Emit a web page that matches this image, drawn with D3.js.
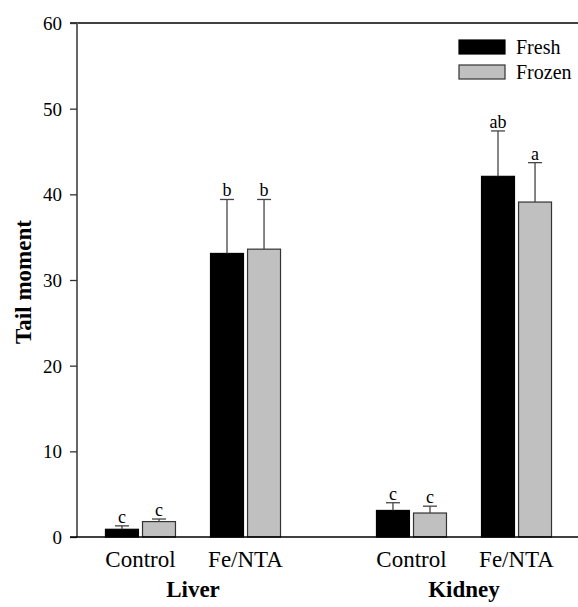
<!doctype html>
<html lang="en">
<head>
  <meta charset="utf-8">
  <title>Tail moment</title>
  <style>
    body { margin: 0; background: #fff; }
    svg { display: block; }
    svg text { font-family: "Liberation Serif", "Times New Roman", serif; fill: #000; }
  </style>
</head>
<body>
  <div id="chart"></div>
  <script src="https://cdn.jsdelivr.net/npm/d3@7/dist/d3.min.js"></script>
  <script>
var organs = ["Liver", "Kidney"];
var treatments = ["Control", "Fe/NTA"];
var series = ["Fresh", "Frozen"];
var yTicks = [0, 10, 20, 30, 40, 50, 60];

// means, per organ then treatment, [Fresh, Frozen]
var freshMean  = [0.9, 33.1, 3.1, 42.1];
var frozenMean = [1.8, 33.6, 2.8, 39.1];
var freshErr   = [0.4, 6.3, 0.9, 5.3];
var frozenErr  = [0.3, 5.8, 0.8, 4.6];
var freshSig   = ["c", "b", "c", "ab"];
var frozenSig  = ["c", "b", "c", "a"];

(function(){
  var width = 578, height = 607;
  var left = 77, top = 23, bottom = 537;

  var svg = d3.select("#chart").append("svg")
      .attr("width", width)
      .attr("height", height);

  var y = d3.scaleLinear().domain([0, 60]).range([bottom, top]);

  var x0 = d3.scaleBand().domain(organs).range([57.5, 599.5]);
  var x1 = d3.scaleBand().domain(treatments).range([0, x0.bandwidth()]).paddingOuter(0.29);
  var pairW = 70;
  var x2 = d3.scaleBand().domain(series).range([0, pairW]).paddingInner(0.11);

  var rows = [];
  organs.forEach(function(o, i) {
    treatments.forEach(function(t, j) {
      var k = i * treatments.length + j;
      rows.push({organ: o, treat: t, s: "Fresh", v: freshMean[k], e: freshErr[k], sig: freshSig[k]});
      rows.push({organ: o, treat: t, s: "Frozen", v: frozenMean[k], e: frozenErr[k], sig: frozenSig[k]});
    });
  });

  function barX(d) {
    return x0(d.organ) + x1(d.treat) + (x1.bandwidth() - pairW) / 2 + x2(d.s);
  }
  function barC(d) { return barX(d) + x2.bandwidth() / 2; }

  // top frame line
  svg.append("line").attr("x1", 70).attr("x2", width).attr("y1", top).attr("y2", top)
      .attr("stroke", "#000").attr("stroke-width", 1.3);

  // bars
  svg.selectAll(".bar").data(rows).enter().append("rect")
      .attr("class", "bar")
      .attr("x", barX)
      .attr("y", function(d) { return y(d.v); })
      .attr("width", x2.bandwidth())
      .attr("height", function(d) { return y(0) - y(d.v); })
      .attr("fill", function(d) { return d.s === "Fresh" ? "#000" : "#c0c0c0"; })
      .attr("stroke", function(d) { return d.s === "Fresh" ? "#000" : "#333"; })
      .attr("stroke-width", 1.2);

  // error bars (upper only)
  var eb = svg.selectAll(".err").data(rows).enter().append("g")
      .attr("class", "err")
      .attr("stroke", "#444").attr("stroke-width", 1.3);
  eb.append("line")
      .attr("x1", barC).attr("x2", barC)
      .attr("y1", function(d) { return y(d.v); })
      .attr("y2", function(d) { return y(d.v + d.e); });
  eb.append("line")
      .attr("x1", function(d) { return barC(d) - 7; })
      .attr("x2", function(d) { return barC(d) + 7; })
      .attr("y1", function(d) { return y(d.v + d.e); })
      .attr("y2", function(d) { return y(d.v + d.e); });

  svg.selectAll(".sig").data(rows).enter().append("text")
      .attr("class", "sig")
      .attr("x", barC)
      .attr("y", function(d) { return y(d.v + d.e) - 3; })
      .attr("text-anchor", "middle")
      .attr("font-size", 18)
      .text(function(d) { return d.sig; });

  // y axis
  var yAxis = svg.append("g")
      .attr("transform", "translate(" + left + ",0)")
      .call(d3.axisLeft(y).tickValues(yTicks).tickSize(7).tickPadding(8));
  yAxis.attr("font-family", null).attr("font-size", null);
  yAxis.selectAll(".tick text").attr("font-size", 19).attr("dy", "0.34em");
  yAxis.select(".domain").attr("stroke", "#666").attr("stroke-width", 2).attr("d", "M0," + top + "V" + bottom);
  yAxis.selectAll(".tick line").attr("stroke", "#333").attr("stroke-width", 1.3);

  // x axis line
  svg.append("line").attr("x1", 70).attr("x2", width).attr("y1", bottom).attr("y2", bottom)
      .attr("stroke", "#000").attr("stroke-width", 1.6);

  // category labels
  organs.forEach(function(o) {
    treatments.forEach(function(t) {
      svg.append("text")
          .attr("x", x0(o) + x1(t) + x1.bandwidth() / 2)
          .attr("y", 567)
          .attr("text-anchor", "middle")
          .attr("font-size", 23)
          .text(t);
    });
    svg.append("text")
        .attr("x", x0(o) + x0.bandwidth() / 2)
        .attr("y", 597)
        .attr("text-anchor", "middle")
        .attr("font-size", 23)
        .attr("font-weight", "bold")
        .text(o);
  });

  // y label
  svg.append("text")
      .attr("transform", "translate(31," + 282 + ") rotate(-90)")
      .attr("text-anchor", "middle")
      .attr("font-size", 23)
      .attr("font-weight", "bold")
      .text("Tail moment");

  // legend
  var leg = svg.selectAll(".leg").data(series).enter().append("g")
      .attr("class", "leg")
      .attr("transform", function(d, i) { return "translate(459," + (40 + i * 25) + ")"; });
  leg.append("rect")
      .attr("width", 46).attr("height", 14)
      .attr("fill", function(d) { return d === "Fresh" ? "#000" : "#c0c0c0"; })
      .attr("stroke", function(d) { return d === "Fresh" ? "#000" : "#333"; })
      .attr("stroke-width", 1.2);
  leg.append("text")
      .attr("x", 57).attr("y", 14)
      .attr("font-size", 20)
      .text(function(d) { return d; });
})();
  </script>
</body>
</html>
